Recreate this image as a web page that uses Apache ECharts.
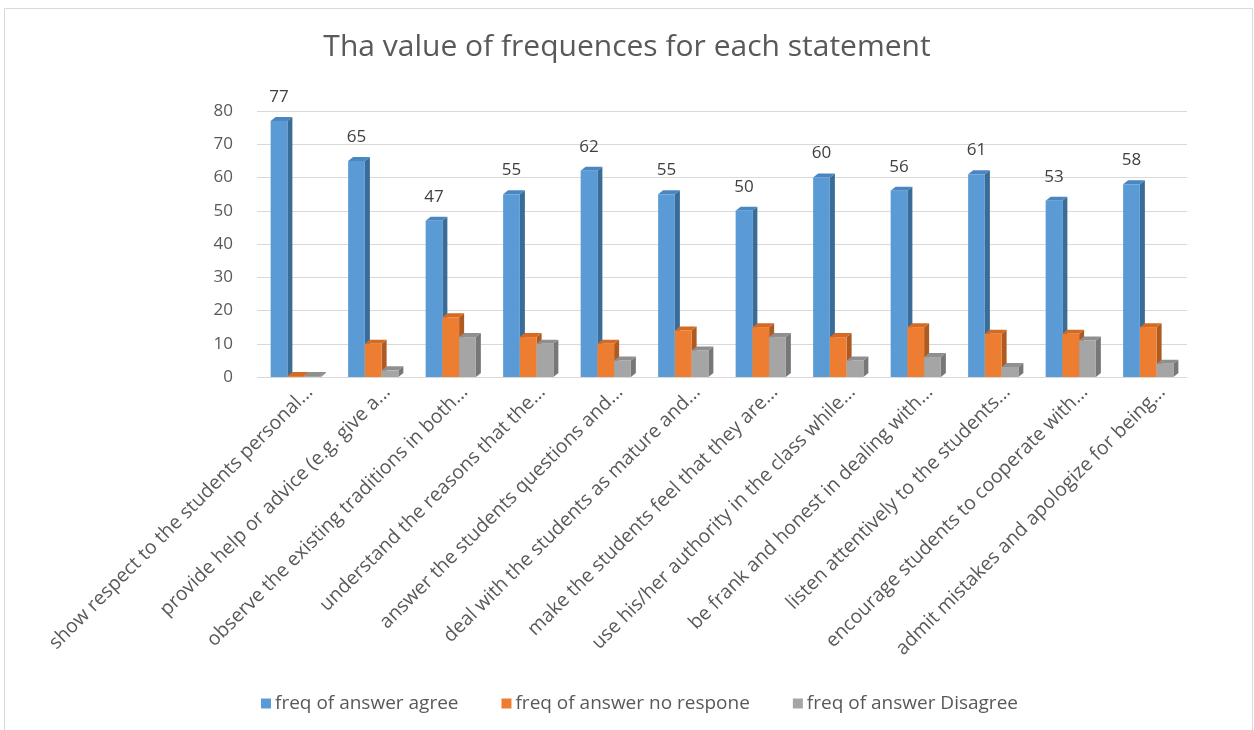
<!DOCTYPE html>
<html lang="en">
<head>
  <meta charset="UTF-8">
  <title>Tha value of frequences for each statement</title>
  <script src="https://cdn.jsdelivr.net/npm/echarts@6/dist/echarts.min.js"></script>
  <style>
    html, body { margin: 0; padding: 0; background: #fff; }
    #chart { width: 1254px; height: 730px; }
  </style>
</head>
<body>
  <div id="chart"></div>
  <script>
    // data
    const statements = [
      'show respect to the students personal...',
      'provide help or advice (e.g. give a...',
      'observe the existing traditions in both...',
      'understand the reasons that the...',
      'answer the students questions and...',
      'deal with the students as mature and...',
      'make the students feel that they are...',
      'use his/her authority in the class while...',
      'be frank and honest in dealing with...',
      'listen attentively to the students...',
      'encourage students to cooperate with...',
      'admit mistakes and apologize for being...'
    ]
    const agree = [77, 65, 47, 55, 62, 55, 50, 60, 56, 61, 53, 58]
    const noRespone = [0, 10, 18, 12, 10, 14, 15, 12, 15, 13, 13, 15]
    const disagree = [0, 2, 12, 10, 5, 8, 12, 5, 6, 3, 11, 4]
    const yTicks = [0, 10, 20, 30, 40, 50, 60, 70, 80]

    const FONT = '"Open Sans", "DejaVu Sans", sans-serif'

    // fake 3d column: front face + right side + top
    function column(offset, front, side, topCol, withLabel) {
      return function (params, api) {
        const ci = api.value(0)
        const v = api.value(1)
        const p = api.coord([ci, v])
        const b = api.coord([ci, 0])
        const band = api.size([1, 0])[0]
        const w = band * 0.216
        const dx = 5, dy = 4
        const x = p[0] + offset * w - w / 2
        const yTop = Math.min(p[1], b[1] - 1)
        const h = b[1] - yTop
        const children = [
          { type: 'polygon', shape: { points: [[x + w, yTop], [x + w + dx, yTop - dy], [x + w + dx, b[1] - dy], [x + w, b[1]]] }, style: { fill: side } },
          { type: 'polygon', shape: { points: [[x, yTop], [x + dx, yTop - dy], [x + w + dx, yTop - dy], [x + w, yTop]] }, style: { fill: topCol } },
          { type: 'rect', shape: { x: x, y: yTop, width: w, height: h }, style: { fill: front } }
        ]
        if (withLabel) {
          children.push({
            type: 'text',
            style: {
              text: String(v), x: x + w / 2, y: yTop - 24,
              align: 'center', verticalAlign: 'middle',
              fill: '#404040', font: '17px ' + FONT
            }
          })
        }
        return { type: 'group', children: children }
      }
    }

    const chart = echarts.init(document.getElementById('chart'))
    chart.setOption({
      animation: false,
      backgroundColor: '#fff',
      textStyle: { fontFamily: FONT },
      graphic: [{
        type: 'rect', shape: { x: 4.5, y: 8.5, width: 1248, height: 740 },
        style: { fill: 'none', stroke: '#d9d9d9', lineWidth: 1 }, silent: true
      }],
      title: {
        text: 'Tha value of frequences for each statement',
        left: 'center', top: 27,
        textStyle: { fontSize: 30, fontWeight: 'normal', color: '#595959', fontFamily: FONT }
      },
      legend: {
        bottom: 12, left: 256,
        itemWidth: 10, itemHeight: 10, itemGap: 43, icon: 'rect',
        textStyle: { fontSize: 19, color: '#595959', padding: [0, 0, 0, -1] },
        data: ['freq of answer agree', 'freq of answer no respone', 'freq of answer Disagree']
      },
      grid: [
        { left: 257, right: 67, top: 111, height: 266 },
        { left: 271, right: 53, top: 111, height: 266, show: false }
      ],
      xAxis: [
        {
          type: 'category', data: statements, gridIndex: 0,
          axisLine: { show: false }, axisTick: { show: false }, axisLabel: { show: false }
        },
        {
          type: 'category', data: statements, gridIndex: 1,
          axisLine: { show: false }, axisTick: { show: false },
          axisLabel: { rotate: 45, interval: 0, margin: 12, fontSize: 19.5, color: '#595959' }
        }
      ],
      yAxis: [
        {
          type: 'value', min: 0, max: 80, interval: 10, gridIndex: 0,
          axisLine: { show: false }, axisTick: { show: false },
          axisLabel: { margin: 24, fontSize: 17, color: '#595959', formatter: v => yTicks.includes(v) ? v : '' },
          splitLine: { lineStyle: { color: '#d9d9d9', width: 1 } }
        },
        { type: 'value', min: 0, max: 80, gridIndex: 1, show: false }
      ],
      series: [
        {
          name: 'freq of answer agree', type: 'custom',
          itemStyle: { color: '#5b9bd5' },
          renderItem: column(-1, '#5b9bd5', '#3a6c98', '#4a86c0', true),
          data: agree.map((v, i) => [i, v])
        },
        {
          name: 'freq of answer no respone', type: 'custom',
          itemStyle: { color: '#ed7d31' },
          renderItem: column(0, '#ed7d31', '#ae5a21', '#d46a24', false),
          data: noRespone.map((v, i) => [i, v])
        },
        {
          name: 'freq of answer Disagree', type: 'custom',
          itemStyle: { color: '#a5a5a5' },
          renderItem: column(1, '#a5a5a5', '#777777', '#8f8f8f', false),
          data: disagree.map((v, i) => [i, v])
        }
      ]
    })
  </script>
</body>
</html>
